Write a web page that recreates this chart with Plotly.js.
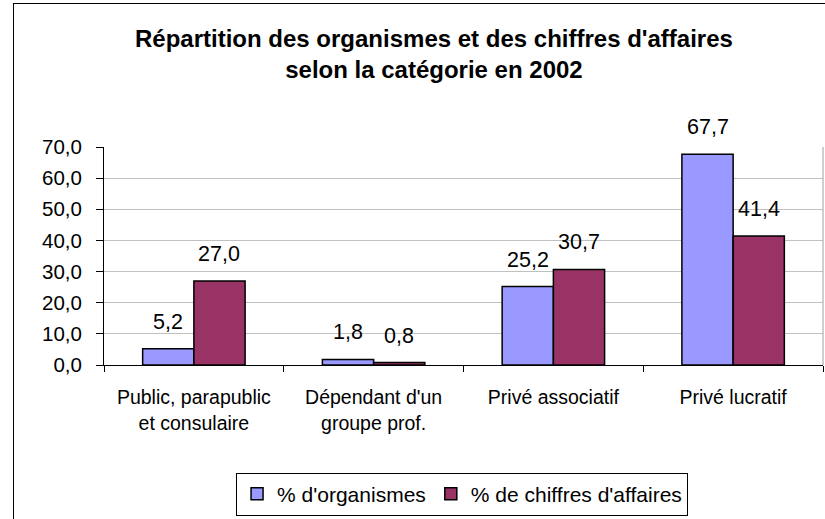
<!DOCTYPE html>
<html><head><meta charset="utf-8">
<script src="https://cdn.plot.ly/plotly-3.0.1.min.js"></script>
<style>
html,body{margin:0;padding:0;background:#fff;}
#wrap{position:relative;width:825px;height:519px;}
#chart{position:absolute;left:0;top:0;width:825px;height:519px;}
#frame{position:absolute;left:13px;top:3px;width:830px;height:530px;border:1px solid #000;pointer-events:none;}
</style></head>
<body>
<div id="wrap"><div id="chart"></div><div id="frame"></div></div>
<script>
const categories = ["Public, parapublic<br>et consulaire", "Dépendant d'un<br>groupe prof.", "Privé associatif", "Privé lucratif"];
const organismes = [5.2, 1.8, 25.2, 67.7];
const chiffres = [27.0, 0.8, 30.7, 41.4];
const seriesNames = ["% d'organismes", "% de chiffres d'affaires"];
const yTicks = [0, 10, 20, 30, 40, 50, 60, 70];

const fontFam = "Liberation Sans, Arial, sans-serif";
function fmt(v){ return v.toFixed(1).replace('.', ','); }

const bargap = 0.43;
const barW = (1 - bargap) / 2;
const seriesVals = [organismes, chiffres];

const traces = [
  {type:'bar', x:categories, y:organismes, name:seriesNames[0],
   marker:{color:'#9999FF', line:{color:'#000', width:1.5}}},
  {type:'bar', x:categories, y:chiffres, name:seriesNames[1],
   marker:{color:'#993366', line:{color:'#000', width:1.5}}}
];

const annotations = [];
seriesVals.forEach((vals, s) => {
  vals.forEach((v, i) => {
    annotations.push({
      x: i + (s === 0 ? -barW/2 : barW/2), y: v, xref:'x', yref:'y',
      text: fmt(v), showarrow:false, xanchor:'center', yanchor:'middle', yshift:27,
      font:{family:fontFam, size:21.5, color:'#000'}
    });
  });
});

const layout = {
  width:825, height:519,
  margin:{l:104, r:2, t:147, b:154},
  paper_bgcolor:'rgba(0,0,0,0)', plot_bgcolor:'#fff',
  separators:',.',
  font:{family:fontFam, color:'#000'},
  title:{text:"<b>Répartition des organismes et des chiffres d'affaires<br>selon la catégorie en 2002</b>",
         font:{family:fontFam, size:24, color:'#000'},
         x:0.526, xref:'container', xanchor:'center', y:0.91, yref:'container', yanchor:'top'},
  barmode:'group', bargap:bargap, bargroupgap:0,
  xaxis:{type:'category', showline:true, linecolor:'#000', linewidth:1,
         ticks:'outside', tickson:'boundaries', ticklen:6, tickcolor:'#000',
         tickfont:{family:fontFam, size:19.5}, ticklabelstandoff:15, showgrid:false},
  yaxis:{range:[0,70], tickvals:yTicks, ticktext:yTicks.map(fmt),
         showline:true, linecolor:'#000', linewidth:1,
         ticks:'outside', ticklen:7, tickcolor:'#000', ticklabelstandoff:10,
         showgrid:true, gridcolor:'#c0c0c0', gridwidth:1, zeroline:false,
         tickfont:{family:fontFam, size:20.5}},
  showlegend:true,
  legend:{orientation:'h', x:0.498, xanchor:'center', y:-0.592, yanchor:'middle',
          bordercolor:'#000', borderwidth:1, bgcolor:'#fff',
          font:{family:fontFam, size:21}, itemwidth:30, traceorder:'normal'},
  annotations: annotations,
  shapes:[{type:'line', xref:'paper', yref:'paper', x0:1, x1:1, y0:0, y1:1,
           line:{color:'#a0a0a0', width:1}}]
};

Plotly.newPlot('chart', traces, layout, {displayModeBar:false, staticPlot:true});
</script>
</body></html>
